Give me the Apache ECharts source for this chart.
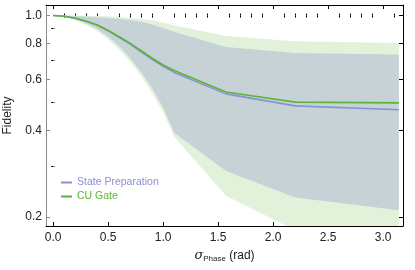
<!DOCTYPE html>
<html>
<head>
<meta charset="utf-8">
<script src="https://cdn.jsdelivr.net/npm/echarts@6/dist/echarts.min.js"></script>
<style>html,body{margin:0;padding:0;background:#fff;}#c{width:415px;height:270px;}</style>
</head>
<body>
<div id="c"></div>
<script>
// ---- data ----
const sigma = [0, 0.1, 0.2, 0.3, 0.4, 0.5, 0.6, 0.7, 0.8, 0.9, 1.0, 1.1, 1.571, 2.2, 3.142];
const statePrep     = [1.000, 0.995, 0.979, 0.955, 0.927, 0.886, 0.840, 0.796, 0.749, 0.705, 0.667, 0.635, 0.535, 0.486, 0.471];
const cuGate        = [1.000, 0.995, 0.979, 0.955, 0.927, 0.888, 0.844, 0.801, 0.755, 0.711, 0.674, 0.645, 0.543, 0.501, 0.498];
const statePrepLow  = [1.000, 0.993, 0.972, 0.938, 0.898, 0.845, 0.783, 0.711, 0.636, 0.558, 0.480, 0.392, 0.289, 0.234, 0.211];
const statePrepHigh = [1.000, 0.999, 0.996, 0.992, 0.987, 0.981, 0.974, 0.966, 0.952, 0.932, 0.905, 0.878, 0.778, 0.742, 0.733];
const cuGateLow     = [1.000, 0.990, 0.966, 0.928, 0.884, 0.826, 0.762, 0.692, 0.618, 0.538, 0.462, 0.380, 0.237, 0.180, 0.160];
const cuGateHigh    = [1.000, 1.000, 0.999, 0.998, 0.997, 0.995, 0.989, 0.982, 0.975, 0.963, 0.945, 0.925, 0.849, 0.814, 0.803];
const xTickLabels = [0, 0.5, 1.0, 1.5, 2.0, 2.5, 3.0];
const xMinorTicks = [0.1,0.2,0.3,0.4,0.6,0.7,0.8,0.9,1.1,1.2,1.3,1.4,1.6,1.7,1.8,1.9,2.1,2.2,2.3,2.4,2.6,2.7,2.8,2.9,3.1];
const yTickLabels = [0.2, 0.4, 0.6, 0.8, 1.0];
const yMinorTicks = [0.3, 0.5, 0.7, 0.9];
const xRange = [-0.065, 3.18];
const yRange = [0.1862, 1.088];

// log scale done through a transformed value axis
const T = v => Math.log10(v);
const pairs = arr => sigma.map((s, i) => [s, T(arr[i])]);

const FONT = 'Liberation Sans, Arial, sans-serif';
const GREEN = '#5bb536', BLUE = '#8b8fd4';

function xAx(pos, ticks, len, opts) {
  return Object.assign({
    type: 'value', position: pos, min: xRange[0], max: xRange[1],
    splitLine: {show: false},
    axisLine: {show: true, onZero: false, lineStyle: {color: '#000', width: 1}},
    axisTick: {show: true, inside: true, length: len, customValues: ticks, lineStyle: {color: '#000'}},
    axisLabel: {show: false}
  }, opts || {});
}
function yAx(pos, ticks, len, opts, col) {
  return Object.assign({
    type: 'value', position: pos, min: T(yRange[0]), max: T(yRange[1]),
    splitLine: {show: false},
    axisLine: {show: true, onZero: false, lineStyle: {color: col, width: 1}},
    axisTick: {show: true, inside: true, length: len, customValues: ticks.map(T), lineStyle: {color: col}},
    axisLabel: {show: false}
  }, opts || {});
}

function band(name, lo, hi, color) {
  return {
    type: 'custom', name: name, silent: true, clip: true,
    data: sigma.map((s, i) => [s, T(lo[i]), T(hi[i])]),
    encode: {x: 0, y: [1, 2]},
    renderItem: function (params, api) {
      if (params.dataIndex !== 0) return null;
      const pts = [];
      for (let i = 0; i < sigma.length; i++) pts.push(api.coord([sigma[i], T(hi[i])]));
      for (let i = sigma.length - 1; i >= 0; i--) pts.push(api.coord([sigma[i], T(lo[i])]));
      return {type: 'polygon', shape: {points: pts}, style: {fill: color, stroke: null}};
    }
  };
}

const option = {
  animation: false,
  textStyle: {fontFamily: FONT},
  grid: {left: 46, right: 12, top: 5, bottom: 44, outerBoundsMode: 'none', containLabel: false},
  legend: {
    orient: 'vertical', left: 61, top: 177, padding: 0,
    itemWidth: 11, itemHeight: 2, itemGap: 3, icon: 'rect',
    textStyle: {fontSize: 10.5, fontFamily: FONT},
    data: [
      {name: 'State Preparation', textStyle: {color: BLUE}},
      {name: 'CU Gate', textStyle: {color: GREEN}}
    ]
  },
  xAxis: [
    xAx('bottom', xTickLabels, 4, {
      name: '{s|σ}{sub|Phase}{t| (rad)}', nameLocation: 'middle', nameGap: 14,
      nameTextStyle: {rich: {
        s: {fontSize: 13, fontStyle: 'italic', fontFamily: 'DejaVu Serif, serif', color: '#222'},
        sub: {fontSize: 8, color: '#222', padding: [6, 0, 0, 0], fontFamily: FONT},
        t: {fontSize: 12, color: '#222', fontFamily: FONT}
      }},
      axisLabel: {show: true, customValues: xTickLabels, margin: 6, fontSize: 12, color: '#222',
        formatter: v => v.toFixed(1)}
    }),
    xAx('bottom', xMinorTicks, 2, {axisLine: {show: false}}),
    xAx('top', xTickLabels, 4),
    xAx('top', xMinorTicks, 2, {axisLine: {show: false}})
  ],
  yAxis: [
    yAx('left', yTickLabels, 4, {
      name: 'Fidelity', nameLocation: 'middle', nameGap: 32, nameRotate: 90,
      nameTextStyle: {fontSize: 12, color: '#222', fontFamily: FONT},
      axisLabel: {show: true, customValues: yTickLabels.map(T), margin: 4, fontSize: 12, color: '#222',
        formatter: v => Math.pow(10, v).toFixed(1)}
    }, '#8c8c8c'),
    yAx('left', yMinorTicks, 2, {axisLine: {show: false}}, '#8c8c8c'),
    yAx('right', yTickLabels, 4, {}, '#000'),
    yAx('right', yMinorTicks, 2, {axisLine: {show: false}}, '#000')
  ],
  series: [
    band('cuBand', cuGateLow, cuGateHigh, '#e2f2da'),
    band('spBand', statePrepLow, statePrepHigh, '#c7d2d6'),
    {type: 'line', name: 'State Preparation', data: pairs(statePrep), symbol: 'none',
      color: BLUE, lineStyle: {color: BLUE, width: 1.6}, clip: true},
    {type: 'line', name: 'CU Gate', data: pairs(cuGate), symbol: 'none',
      color: GREEN, lineStyle: {color: GREEN, width: 1.6}, clip: true}
  ]
};
echarts.init(document.getElementById('c'), null, {renderer: 'canvas'}).setOption(option);
</script>
</body>
</html>
